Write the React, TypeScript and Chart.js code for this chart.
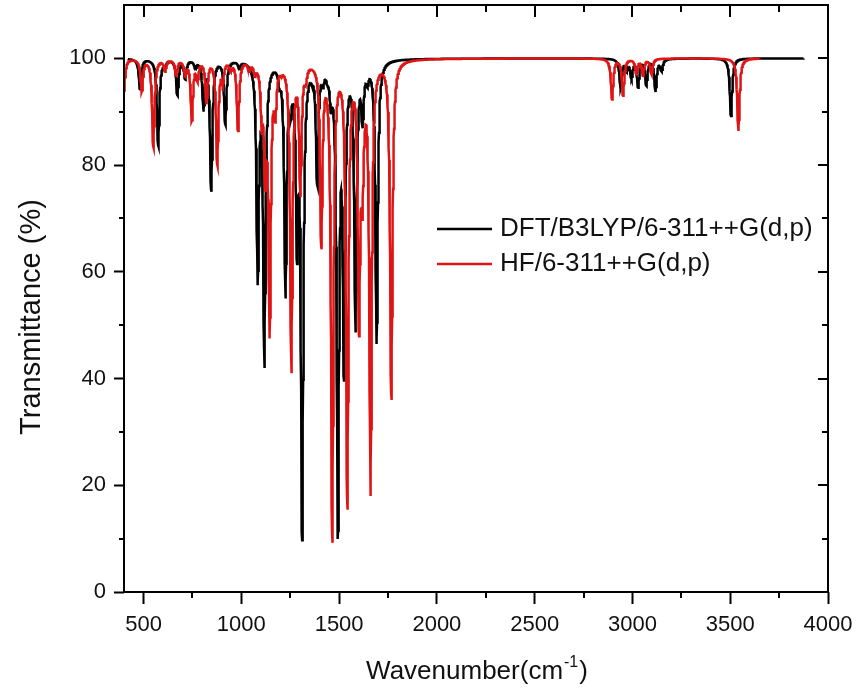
import React, { useEffect, useRef } from 'react';
import { Chart, registerables } from 'chart.js';

Chart.register(...registerables);

// ---- axis ticks ----
const xTickValues = [500, 1000, 1500, 2000, 2500, 3000, 3500, 4000];
const xMinorTickValues = [750, 1250, 1750, 2250, 2750, 3250, 3750];
const yTickValues = [0, 20, 40, 60, 80, 100];
const yMinorTickValues = [10, 30, 50, 70, 90];

// ---- series labels ----
const seriesLabels = ['DFT/B3LYP/6-311++G(d,p)', 'HF/6-311++G(d,p)'];

// ---- DFT/B3LYP band list (wavenumber cm-1, transmittance % at band minimum) ----
const dftPeakWavenumbers = [
  482, 575, 608, 673, 713, 765, 807, 846, 918, 990, 1045, 1084, 1118, 1195, 1226, 1252,
  1285, 1311, 1362, 1388, 1418, 1440, 1458, 1494, 1510, 1525, 1560, 1584, 1620, 1645, 1692,
  2940, 2970, 2995, 3029, 3071, 3118, 3149, 3504,
];
const dftPeakTransmittance = [
  94.2, 83.5, 98, 93, 96, 98, 90, 75, 87.5, 98, 98.5, 57.5, 42, 94, 55, 88,
  61.5, 9.7, 95, 76, 94.5, 95, 90, 12, 88, 42, 96, 49, 87, 94.5, 46.5,
  94.2, 97.5, 96, 94.5, 94.8, 93.7, 97.5, 89.2,
];
const dftRange = [420, 3875];

// ---- HF band list ----
const hfPeakWavenumbers = [
  400, 491, 550, 610, 667, 713, 747, 776, 822, 877, 905, 945, 983, 1040, 1070, 1105, 1123,
  1145, 1174, 1205, 1256, 1302, 1330, 1409, 1440, 1465, 1520, 1542, 1602, 1619, 1630, 1661,
  1767, 2896, 2952, 3020, 3054, 3097, 3542,
];
const hfPeakTransmittance = [
  94, 93.6, 83.2, 97.5, 96.7, 96.5, 88.2, 95.5, 91.4, 79.8, 95, 97.5, 86.4, 97.5, 96.5, 86, 75,
  47.5, 88, 96.5, 41, 74, 95, 64.5, 96.5, 9.7, 96, 16, 48, 70, 85, 18,
  36, 92.3, 93, 97, 96.7, 97, 86.4,
];
const hfRange = [400, 3652];

const bandHalfWidth = 7; // Lorentzian half width (cm-1)

function lor(dx: number) {
  const u = dx / bandHalfWidth;
  return 1 / (1 + u * u);
}

// amplitudes so that the summed band profile passes through the read minima
function solveAmplitudes(centers: number[], minima: number[]) {
  const n = centers.length;
  const m: number[][] = [];
  for (let i = 0; i < n; i++) {
    const row: number[] = [];
    for (let j = 0; j < n; j++) row.push(lor(centers[i] - centers[j]));
    row.push(100 - minima[i]);
    m.push(row);
  }
  for (let c = 0; c < n; c++) {
    let p = c;
    for (let r = c + 1; r < n; r++) if (Math.abs(m[r][c]) > Math.abs(m[p][c])) p = r;
    [m[c], m[p]] = [m[p], m[c]];
    for (let r = 0; r < n; r++) {
      if (r === c) continue;
      const f = m[r][c] / m[c][c];
      for (let k = c; k <= n; k++) m[r][k] -= f * m[c][k];
    }
  }
  return m.map((row, i) => Math.max(0, row[n] / row[i]));
}

function buildSpectrum(centers: number[], minima: number[], range: number[]) {
  const amps = solveAmplitudes(centers, minima);
  const pts: { x: number; y: number }[] = [];
  for (let x = range[0]; x <= range[1]; x += 1) {
    let a = 0;
    for (let i = 0; i < centers.length; i++) a += amps[i] * lor(x - centers[i]);
    pts.push({ x, y: Math.min(100, Math.max(0, 100 - a)) });
  }
  return pts;
}

const SANS = '"Liberation Sans", Arial, sans-serif';

const decorPlugin = {
  id: 'decor',
  afterDraw(chart: any) {
    const { ctx, chartArea, scales } = chart;
    const { left, right, top, bottom } = chartArea;
    const xs = scales.x;
    const ys = scales.y;
    ctx.save();
    ctx.strokeStyle = '#000';
    ctx.lineWidth = 2;
    ctx.strokeRect(left, top, right - left, bottom - top);

    ctx.beginPath();
    xMinorTickValues.forEach((v) => {
      const px = Math.round(xs.getPixelForValue(v));
      ctx.moveTo(px, bottom);
      ctx.lineTo(px, bottom + 6);
      ctx.moveTo(px, top);
      ctx.lineTo(px, top + 7);
    });
    xTickValues.forEach((v) => {
      const px = Math.round(xs.getPixelForValue(v));
      ctx.moveTo(px, top);
      ctx.lineTo(px, top + 12);
    });
    yMinorTickValues.forEach((v) => {
      const py = Math.round(ys.getPixelForValue(v));
      ctx.moveTo(left, py);
      ctx.lineTo(left - 5, py);
      ctx.moveTo(right, py);
      ctx.lineTo(right - 6, py);
    });
    yTickValues.forEach((v) => {
      const py = Math.round(ys.getPixelForValue(v));
      ctx.moveTo(right, py);
      ctx.lineTo(right - 10, py);
    });
    ctx.stroke();

    // legend
    const ds = chart.data.datasets;
    const legendRows = [
      { i: 0, y: 229 },
      { i: 1, y: 264 },
    ];
    ctx.font = `26px ${SANS}`;
    ctx.textBaseline = 'middle';
    ctx.textAlign = 'left';
    legendRows.forEach((r) => {
      ctx.beginPath();
      ctx.strokeStyle = ds[r.i].borderColor;
      ctx.lineWidth = 2.5;
      ctx.moveTo(437, r.y);
      ctx.lineTo(492, r.y);
      ctx.stroke();
      ctx.fillStyle = '#111';
      ctx.fillText(ds[r.i].label, 500, r.y);
    });

    // y title
    ctx.save();
    ctx.translate(32, 317);
    ctx.rotate(-Math.PI / 2);
    ctx.font = `29px ${SANS}`;
    ctx.textAlign = 'center';
    ctx.textBaseline = 'middle';
    ctx.fillStyle = '#111';
    ctx.fillText('Transmittance (%)', 0, 0);
    ctx.restore();

    // x title with superscript
    const main1 = 'Wavenumber(cm';
    const sup = '-1';
    const main2 = ')';
    ctx.font = `26px ${SANS}`;
    const w1 = ctx.measureText(main1).width;
    const w3 = ctx.measureText(main2).width;
    ctx.font = `16px ${SANS}`;
    const w2 = ctx.measureText(sup).width;
    const total = w1 + w2 + w3 + 2;
    let sx = 477 - total / 2;
    const base = 679;
    ctx.textAlign = 'left';
    ctx.textBaseline = 'alphabetic';
    ctx.fillStyle = '#111';
    ctx.font = `26px ${SANS}`;
    ctx.fillText(main1, sx, base);
    sx += w1 + 1;
    ctx.font = `16px ${SANS}`;
    ctx.fillText(sup, sx, base - 12);
    sx += w2 + 1;
    ctx.font = `26px ${SANS}`;
    ctx.fillText(main2, sx, base);
    ctx.restore();
  },
};

export default function App() {
  const ref = useRef<HTMLCanvasElement | null>(null);
  useEffect(() => {
    document.body.style.margin = '0';
    const canvas = ref.current;
    if (!canvas) return;
    const dft = buildSpectrum(dftPeakWavenumbers, dftPeakTransmittance, dftRange);
    const hf = buildSpectrum(hfPeakWavenumbers, hfPeakTransmittance, hfRange);
    const tickFont = { family: SANS, size: 22 };
    const chart = new Chart(canvas, {
      type: 'line',
      data: {
        datasets: [
          {
            label: seriesLabels[0],
            data: dft,
            borderColor: '#000000',
            borderWidth: 2.5,
            pointRadius: 0,
            order: 1,
          },
          {
            label: seriesLabels[1],
            data: hf,
            borderColor: '#e01414',
            borderWidth: 2.5,
            pointRadius: 0,
            order: 0,
          },
        ],
      },
      options: {
        animation: false,
        responsive: false,
        parsing: false,
        normalized: true,
        layout: { padding: { left: 0, right: 28, top: 5, bottom: 0 } },
        plugins: { legend: { display: false }, tooltip: { enabled: false } },
        scales: {
          x: {
            type: 'linear',
            min: 400,
            max: 4000,
            afterBuildTicks: (s: any) => {
              s.ticks = xTickValues.map((v) => ({ value: v }));
            },
            afterFit: (s: any) => {
              s.height = 103;
              s.paddingLeft = 0;
              s.paddingRight = 0;
            },
            grid: {
              drawOnChartArea: false,
              drawTicks: true,
              tickLength: 12,
              tickWidth: 2,
              tickColor: '#000',
            },
            border: { display: false },
            ticks: {
              padding: 8,
              font: tickFont,
              color: '#111',
              maxRotation: 0,
              autoSkip: false,
              callback: (v: any) => String(v),
            },
          },
          y: {
            type: 'linear',
            min: 0,
            max: 110,
            afterBuildTicks: (s: any) => {
              s.ticks = yTickValues.map((v) => ({ value: v }));
            },
            afterFit: (s: any) => {
              s.width = 124;
              s.paddingTop = 0;
              s.paddingBottom = 0;
            },
            grid: {
              drawOnChartArea: false,
              drawTicks: true,
              tickLength: 10,
              tickWidth: 2,
              tickColor: '#000',
            },
            border: { display: false },
            ticks: {
              padding: 8,
              font: tickFont,
              color: '#111',
              autoSkip: false,
              callback: (v: any) => String(v),
            },
          },
        },
      },
      plugins: [decorPlugin],
    });
    return () => chart.destroy();
  }, []);
  return <canvas ref={ref} width={856} height={695} style={{ display: 'block' }} />;
}
